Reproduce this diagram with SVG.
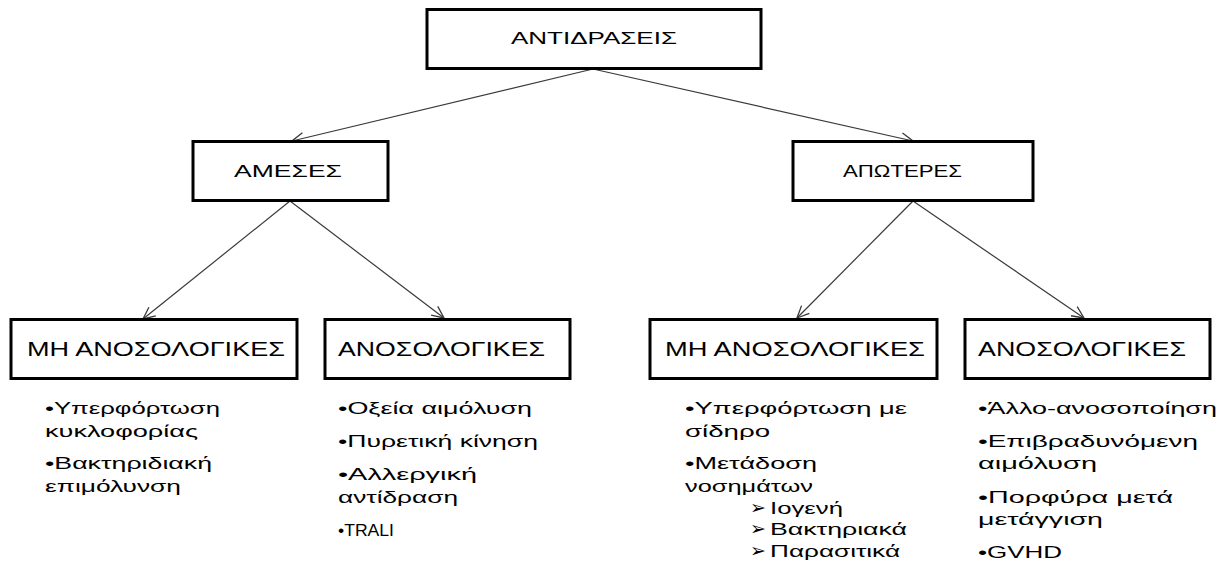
<svg xmlns="http://www.w3.org/2000/svg" width="1226" height="563" viewBox="0 0 1226 563">
<style>
.box{fill:#fff;stroke:#000;stroke-width:3}
.lbl{font-family:"Liberation Sans","DejaVu Sans",sans-serif;fill:#000}
.t1{font-size:17px}
.t2{font-size:20px}
.b{font-size:16px}
.ar{font-size:19px}
.con{stroke:#3a3a3a;stroke-width:1.2;fill:none}
</style>
<defs>
<marker id="arr" markerUnits="userSpaceOnUse" markerWidth="16" markerHeight="14" refX="13" refY="7" orient="auto">
<polyline points="1,1.5 13,7 1,12.5" fill="none" stroke="#3a3a3a" stroke-width="1.3"/>
</marker>
</defs>
<g id="connectors">
<line class="con" x1="593" y1="69" x2="292" y2="141" marker-end="url(#arr)"/>
<line class="con" x1="593" y1="69" x2="913" y2="141" marker-end="url(#arr)"/>
<line class="con" x1="290" y1="201" x2="143" y2="319" marker-end="url(#arr)"/>
<line class="con" x1="290" y1="201" x2="444" y2="318" marker-end="url(#arr)"/>
<line class="con" x1="913" y1="201" x2="797" y2="318" marker-end="url(#arr)"/>
<line class="con" x1="913" y1="201" x2="1084" y2="318" marker-end="url(#arr)"/>
</g>
<g id="n-antidraseis">
<rect class="box" x="427" y="9.5" width="334" height="59"/>
<text class="lbl t1" x="511" y="44" textLength="166" lengthAdjust="spacingAndGlyphs">ΑΝΤΙΔΡΑΣΕΙΣ</text>
</g>
<g id="n-ameses">
<rect class="box" x="193" y="141.5" width="195" height="59"/>
<text class="lbl t1" x="234" y="177" textLength="108" lengthAdjust="spacingAndGlyphs">ΑΜΕΣΕΣ</text>
</g>
<g id="n-apoteres">
<rect class="box" x="793" y="141.5" width="240" height="59"/>
<text class="lbl t1" x="843" y="177" textLength="119" lengthAdjust="spacingAndGlyphs">ΑΠΩΤΕΡΕΣ</text>
</g>
<g id="n-mh-anos-1">
<rect class="box" x="11" y="319.5" width="286" height="59"/>
<text class="lbl t2" x="27" y="356" textLength="258" lengthAdjust="spacingAndGlyphs">ΜΗ ΑΝΟΣΟΛΟΓΙΚΕΣ</text>
<text class="lbl b" x="45" y="414" textLength="175" lengthAdjust="spacingAndGlyphs">•Υπερφόρτωση</text>
<text class="lbl b" x="45" y="437" textLength="153" lengthAdjust="spacingAndGlyphs">κυκλοφορίας</text>
<text class="lbl b" x="45" y="469" textLength="167" lengthAdjust="spacingAndGlyphs">•Βακτηριδιακή</text>
<text class="lbl b" x="45" y="492" textLength="136" lengthAdjust="spacingAndGlyphs">επιμόλυνση</text>
</g>
<g id="n-anos-1">
<rect class="box" x="325" y="319.5" width="245" height="59"/>
<text class="lbl t2" x="338" y="356" textLength="207" lengthAdjust="spacingAndGlyphs">ΑΝΟΣΟΛΟΓΙΚΕΣ</text>
<text class="lbl b" x="338" y="414" textLength="194" lengthAdjust="spacingAndGlyphs">•Οξεία αιμόλυση</text>
<text class="lbl b" x="338" y="447" textLength="200" lengthAdjust="spacingAndGlyphs">•Πυρετική κίνηση</text>
<text class="lbl b" x="338" y="480" textLength="139" lengthAdjust="spacingAndGlyphs">•Αλλεργική</text>
<text class="lbl b" x="338" y="503" textLength="120" lengthAdjust="spacingAndGlyphs">αντίδραση</text>
<text class="lbl" style="font-size:17px" x="338" y="536" textLength="56" lengthAdjust="spacingAndGlyphs">•TRALI</text>
</g>
<g id="n-mh-anos-2">
<rect class="box" x="650" y="319.5" width="287" height="59"/>
<text class="lbl t2" x="665" y="356" textLength="260" lengthAdjust="spacingAndGlyphs">ΜΗ ΑΝΟΣΟΛΟΓΙΚΕΣ</text>
<text class="lbl b" x="685" y="414" textLength="222" lengthAdjust="spacingAndGlyphs">•Υπερφόρτωση με</text>
<text class="lbl b" x="685" y="437" textLength="85" lengthAdjust="spacingAndGlyphs">σίδηρο</text>
<text class="lbl b" x="685" y="469" textLength="132" lengthAdjust="spacingAndGlyphs">•Μετάδοση</text>
<text class="lbl b" x="685" y="492" textLength="128" lengthAdjust="spacingAndGlyphs">νοσημάτων</text>
<text class="lbl b" x="750" y="514"><tspan class="ar">➢</tspan><tspan x="770" textLength="73" lengthAdjust="spacingAndGlyphs">Ιογενή</tspan></text>
<text class="lbl b" x="750" y="535"><tspan class="ar">➢</tspan><tspan x="770" textLength="137" lengthAdjust="spacingAndGlyphs">Βακτηριακά</tspan></text>
<text class="lbl b" x="750" y="557"><tspan class="ar">➢</tspan><tspan x="770" textLength="130" lengthAdjust="spacingAndGlyphs">Παρασιτικά</tspan></text>
</g>
<g id="n-anos-2">
<rect class="box" x="965" y="319.5" width="245" height="59"/>
<text class="lbl t2" x="978" y="356" textLength="208" lengthAdjust="spacingAndGlyphs">ΑΝΟΣΟΛΟΓΙΚΕΣ</text>
<text class="lbl b" x="978" y="414" textLength="239" lengthAdjust="spacingAndGlyphs">•Άλλο-ανοσοποίηση</text>
<text class="lbl b" x="978" y="447" textLength="220" lengthAdjust="spacingAndGlyphs">•Επιβραδυνόμενη</text>
<text class="lbl b" x="978" y="469" textLength="119" lengthAdjust="spacingAndGlyphs">αιμόλυση</text>
<text class="lbl b" x="978" y="503" textLength="195" lengthAdjust="spacingAndGlyphs">•Πορφύρα μετά</text>
<text class="lbl b" x="978" y="525" textLength="125" lengthAdjust="spacingAndGlyphs">μετάγγιση</text>
<text class="lbl b" x="978" y="558" textLength="84" lengthAdjust="spacingAndGlyphs">•GVHD</text>
</g>
</svg>
